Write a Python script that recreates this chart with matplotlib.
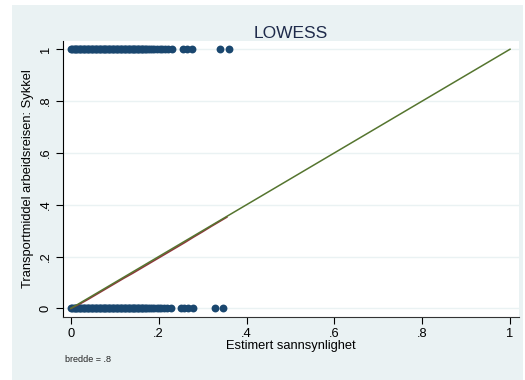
import matplotlib.pyplot as plt
from matplotlib.patches import Rectangle

plt.rcParams['font.family'] = ['Liberation Sans', 'DejaVu Sans']

# observations: y=1 (bike) and y=0 (not bike), x = estimated probability
top_x = [0.000, 0.003, 0.006, 0.009, 0.012, 0.015, 0.018, 0.021, 0.024, 0.027,
         0.030, 0.033, 0.036, 0.039, 0.042, 0.045, 0.048, 0.051, 0.054, 0.057,
         0.060, 0.063, 0.066, 0.069, 0.072, 0.075, 0.078, 0.081, 0.084, 0.087,
         0.090, 0.093, 0.096, 0.099, 0.102, 0.105, 0.108, 0.111, 0.114, 0.117,
         0.120, 0.123, 0.126, 0.129, 0.132, 0.135, 0.138, 0.141, 0.144, 0.147,
         0.150, 0.153, 0.156, 0.159, 0.162, 0.165, 0.168, 0.172, 0.176, 0.180,
         0.185, 0.190, 0.196, 0.202, 0.208, 0.214, 0.222, 0.230, 0.255, 0.265,
         0.276, 0.339, 0.360]
bot_x = [0.000, 0.003, 0.006, 0.009, 0.012, 0.015, 0.018, 0.021, 0.024, 0.027,
         0.030, 0.033, 0.036, 0.039, 0.042, 0.045, 0.048, 0.051, 0.054, 0.057,
         0.060, 0.063, 0.066, 0.069, 0.072, 0.075, 0.078, 0.081, 0.084, 0.087,
         0.090, 0.093, 0.096, 0.099, 0.102, 0.105, 0.108, 0.111, 0.114, 0.117,
         0.120, 0.123, 0.126, 0.129, 0.132, 0.135, 0.138, 0.141, 0.144, 0.147,
         0.150, 0.153, 0.156, 0.159, 0.162, 0.165, 0.168, 0.172, 0.176, 0.180,
         0.185, 0.190, 0.195, 0.200, 0.206, 0.212, 0.218, 0.228, 0.250, 0.258,
         0.267, 0.278, 0.328, 0.346]

# lowess smooth (bandwidth .8)
low_x = [0.000, 0.020, 0.040, 0.060, 0.080, 0.100, 0.120, 0.140, 0.160, 0.180,
         0.200, 0.220, 0.240, 0.260, 0.280, 0.300, 0.320, 0.340, 0.355]
low_y = [0.000, 0.017, 0.036, 0.056, 0.076, 0.096, 0.116, 0.135, 0.155, 0.175,
         0.195, 0.215, 0.235, 0.255, 0.276, 0.296, 0.317, 0.337, 0.352]

# 45 degree reference line
ref_x = [0, 1]
ref_y = [0, 1]

yticks = [0, 0.2, 0.4, 0.6, 0.8, 1]
ytick_labels = ['0', '.2', '.4', '.6', '.8', '1']
xticks = [0, 0.2, 0.4, 0.6, 0.8, 1]
xtick_labels = ['0', '.2', '.4', '.6', '.8', '1']

bg = '#eaf2f3'
navy = '#1a476f'
maroon = '#90353b'
green = '#55752f'

fig = plt.figure(figsize=(5.25, 3.8), dpi=100, facecolor='white')
fig.patches.append(Rectangle((0.0229, 0.0), 0.9733, 0.987, transform=fig.transFigure,
                             facecolor=bg, edgecolor='none', zorder=-10))

ax = fig.add_axes([0.12, 0.1666, 0.8686, 0.7263])
ax.set_facecolor('white')

for t in yticks:
    ax.axhline(t, color=bg, lw=1.0, zorder=0)

ax.scatter(top_x, [1] * len(top_x), s=32, color=navy, zorder=2, linewidths=0)
ax.scatter(bot_x, [0] * len(bot_x), s=32, color=navy, zorder=2, linewidths=0)
ax.plot(low_x, low_y, color=maroon, lw=1.2, zorder=3)
ax.plot(ref_x, ref_y, color=green, lw=1.1, zorder=4)

ax.set_xlim(-0.018, 1.0205)
ax.set_ylim(-0.032, 1.033)

ax.spines['top'].set_visible(False)
ax.spines['right'].set_visible(False)
ax.spines['left'].set_color('black')
ax.spines['bottom'].set_color('#333333')

ax.set_xticks(xticks)
ax.set_xticklabels(xtick_labels)
ax.set_yticks(yticks)
ax.set_yticklabels(ytick_labels, rotation=90, va='center')
ax.tick_params(direction='out', length=5, width=0.8, labelsize=9.3, pad=3)

ax.set_xlabel('Estimert sannsynlighet', fontsize=9.3, labelpad=0)
ax.set_ylabel('Transportmiddel arbeidsreisen: Sykkel', fontsize=9.3, labelpad=4)
ax.set_title('LOWESS', fontsize=12.5, color='#1e2a4a', pad=2)

fig.text(0.124, 0.047, 'bredde = .8', fontsize=6.5, color='#222222')

fig.savefig('out.png', dpi=100, facecolor='white')
